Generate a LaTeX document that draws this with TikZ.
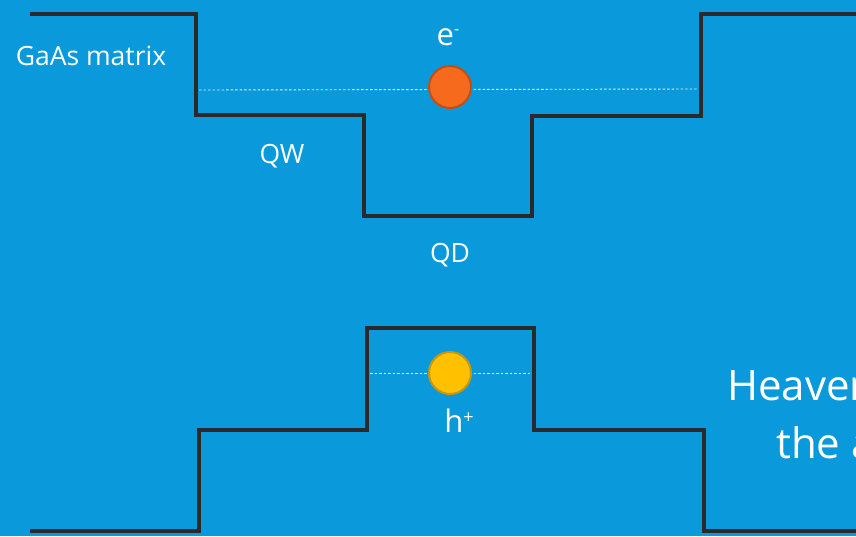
\documentclass[tikz,border=0pt]{standalone}
\usepackage{fontspec}
\setmainfont{Open Sans}
\definecolor{slidebg}{RGB}{10,154,219}
\definecolor{bandline}{RGB}{42,42,42}
\definecolor{elecfill}{RGB}{245,106,28}
\definecolor{elecedge}{RGB}{196,78,18}
\definecolor{holefill}{RGB}{255,192,0}
\definecolor{holeedge}{RGB}{200,150,10}
\definecolor{shade}{RGB}{0,70,110}
\tikzset{
  band/.style={draw=bandline, line width=4.4pt, line join=miter},
  bandshadow/.style={draw=shade, line width=4.4pt, opacity=0.35},
  level/.style={draw=white!85!slidebg, line width=0.9pt, dash pattern=on 2.5pt off 2pt},
  carrier/.style={circle, minimum size=42pt, inner sep=0pt, line width=2pt},
  lbl/.style={text=white, inner sep=0pt, font=\fontsize{26.5}{30}\selectfont},
  biglbl/.style={text=white, inner sep=0pt, anchor=base west, font=\fontsize{42}{50}\selectfont}
}
\begin{document}
\begin{tikzpicture}[x=1pt,y=-1pt]
\clip (0,0) rectangle (856,536);
\fill[slidebg] (0,0) rectangle (856,536);

% conduction band edge
\coordinate (c0) at (30,14);
\coordinate (c1) at (196,14);
\coordinate (c2) at (196,115);
\coordinate (c3) at (364,115);
\coordinate (c4) at (364,216);
\coordinate (c5) at (532,216);
\coordinate (c6) at (532,116);
\coordinate (c7) at (701,116);
\coordinate (c8) at (701,14);
\coordinate (c9) at (860,14);
% valence band edge
\coordinate (v0) at (30,531);
\coordinate (v1) at (199,531);
\coordinate (v2) at (199,430);
\coordinate (v3) at (367,430);
\coordinate (v4) at (367,328);
\coordinate (v5) at (534,328);
\coordinate (v6) at (534,430);
\coordinate (v7) at (704,430);
\coordinate (v8) at (704,531);
\coordinate (v9) at (860,531);

\begin{scope}[shift={(2,2)}]
\draw[bandshadow] (c0)--(c1)--(c2)--(c3)--(c4)--(c5)--(c6)--(c7)--(c8)--(c9);
\draw[bandshadow] (v0)--(v1)--(v2)--(v3)--(v4)--(v5)--(v6)--(v7)--(v8)--(v9);
\end{scope}
\draw[band] (c0)--(c1)--(c2)--(c3)--(c4)--(c5)--(c6)--(c7)--(c8)--(c9);
\draw[band] (v0)--(v1)--(v2)--(v3)--(v4)--(v5)--(v6)--(v7)--(v8)--(v9);

% confined energy levels
\coordinate (el) at (199,90);
\coordinate (er) at (698,89);
\coordinate (hl) at (370,373);
\coordinate (hr) at (531,373);
\draw[level] (el) -- (er);
\draw[level] (hl) -- (hr);

% carriers
\node[carrier, fill=elecfill, draw=elecedge] (elec) at (450,87) {};
\node[carrier, fill=holefill, draw=holeedge] (hole) at (450,373) {};

% labels
\node[lbl] (matrix) at (91,56) {GaAs matrix};
\node[lbl] (qw) at (282,156) {QW};
\node[lbl] (qd) at (450,255) {QD};
\node[lbl, font=\fontsize{31}{34}\selectfont] (elab) at (448,37) {e\raisebox{11pt}{\fontsize{16}{18}\selectfont -}};
\node[lbl, font=\fontsize{31}{34}\selectfont] (hlab) at (459,421) {h\raisebox{9pt}{\fontsize{18}{20}\selectfont +}};
\node[biglbl] (head1) at (727,400) {Heaven};
\node[biglbl] (head2) at (776,458) {the a};
\end{tikzpicture}
\end{document}
